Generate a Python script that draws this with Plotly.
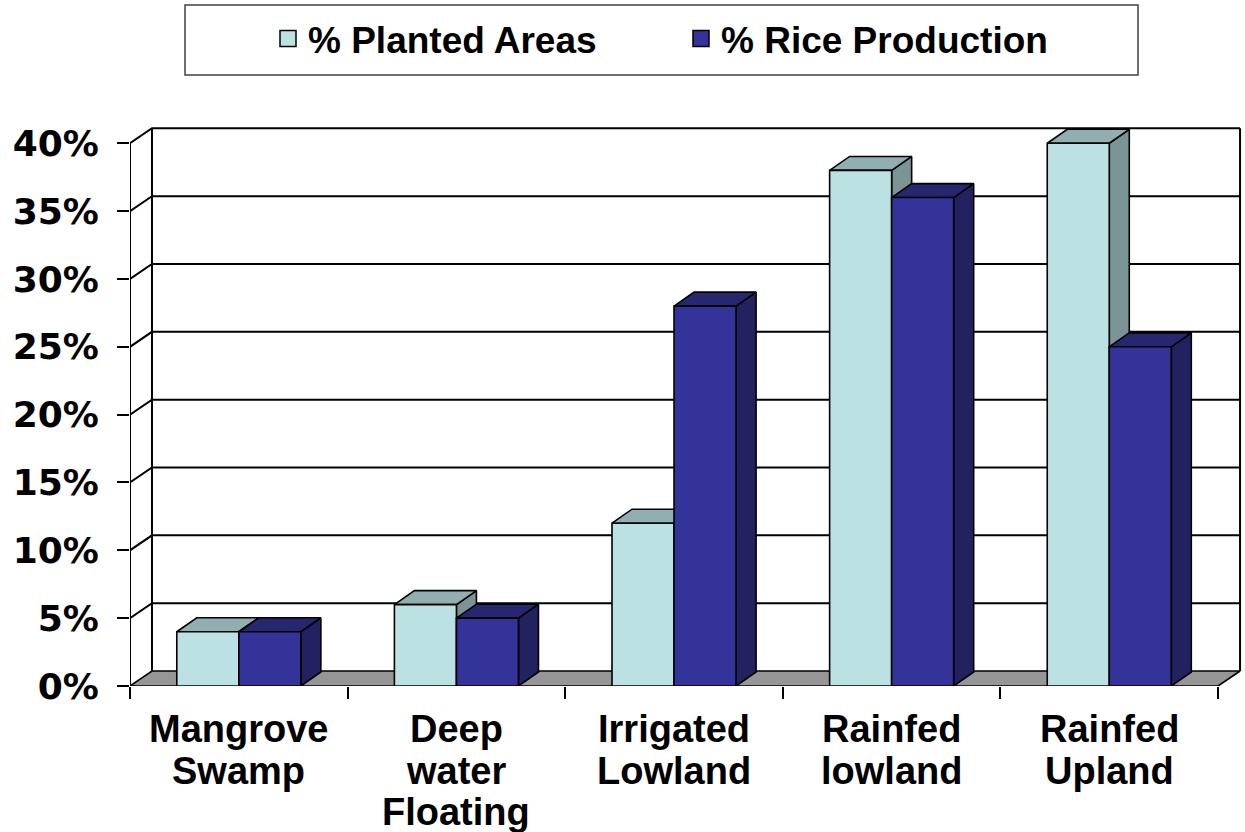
import plotly.graph_objects as go

# ---------------- data ----------------
categories = ["Mangrove Swamp", "Deep water Floating", "Irrigated Lowland",
              "Rainfed lowland", "Rainfed Upland"]
planted_areas = [4, 6, 12, 38, 40]
rice_production = [4, 5, 28, 36, 25]
series_names = ["% Planted Areas", "% Rice Production"]
y_ticks = [0, 5, 10, 15, 20, 25, 30, 35, 40]
y_tick_labels = [f"{v}%" for v in y_ticks]

# ---------------- style / geometry ----------------
BAR_W = 0.285                 # width of one bar (category units)
WALL_DX, WALL_DY = 0.101, 1.105   # depth offset of the back wall
BAR_DX, BAR_DY = 0.092, 1.03      # depth offset of the bars
X_MAX, Y_MAX = 5.11, 41.2
EDGE = dict(color="black", width=1.6)
series_colors = [
    dict(front="#BCE1E3", top="#91AFB0", side="#7A9394"),
    dict(front="#333399", top="#27276F", side="#222260"),
]
LABEL_FONT = dict(family="Liberation Sans", size=38, color="black", weight="bold")
LEGEND_FONT = dict(family="Liberation Sans", size=37, color="black", weight="bold")
TICK_FONT = dict(family="DejaVu Sans", size=36, color="black", weight="bold")

fig = go.Figure()
n = len(categories)
top = y_ticks[-1]

def poly(xs, ys, fill, line=EDGE):
    fig.add_trace(go.Scatter(x=xs, y=ys, mode="lines", fill="toself",
                             fillcolor=fill, line=line, hoverinfo="skip",
                             showlegend=False))

# floor
poly([0, n, n + WALL_DX, WALL_DX, 0], [0, 0, WALL_DY, WALL_DY, 0], "#969696")

# gridlines on side wall and back wall, wall edges, front value axis
gx, gy = [], []
for v in y_ticks[1:]:
    gx += [0, WALL_DX, n + WALL_DX, None]
    gy += [v, v + WALL_DY, v + WALL_DY, None]
gx += [WALL_DX, WALL_DX, None, n + WALL_DX, n + WALL_DX, None, 0, 0]
gy += [WALL_DY, top + WALL_DY, None, WALL_DY, top + WALL_DY, None, 0, top]
fig.add_trace(go.Scatter(x=gx, y=gy, mode="lines",
                         line=dict(color="black", width=2),
                         hoverinfo="skip", showlegend=False))

# bars (front, top and side faces)
series = [planted_areas, rice_production]
for i in range(n):
    c = i + 0.5
    for j, vals in enumerate(series):
        v = vals[i]
        col = series_colors[j]
        x0 = c - BAR_W + j * BAR_W
        x1 = x0 + BAR_W
        poly([x1, x1 + BAR_DX, x1 + BAR_DX, x1, x1],
             [0, BAR_DY, v + BAR_DY, v, 0], col["side"])
        poly([x0, x1, x1 + BAR_DX, x0 + BAR_DX, x0],
             [v, v, v + BAR_DY, v + BAR_DY, v], col["top"])
        fig.add_trace(go.Scatter(x=[x0, x1, x1, x0, x0], y=[0, 0, v, v, 0],
                                 mode="lines", fill="toself",
                                 fillcolor=col["front"], line=EDGE,
                                 name=series_names[j], showlegend=False,
                                 hoveron="fills",
                                 text=f"{categories[i]}: {v}%", hoverinfo="text"))

# legend entries
for j, name in enumerate(series_names):
    fig.add_trace(go.Scatter(x=[None], y=[None], mode="markers", name=name,
                             marker=dict(symbol="square", size=16,
                                         color=series_colors[j]["front"],
                                         line=dict(color="black", width=1.5))))

# category labels, one annotation per line
PLOT_BOTTOM_PX, PLOT_H_PX = 686, 559
for i, cat in enumerate(categories):
    for k, word in enumerate(cat.split(" ")):
        ypx = 729 + 41.5 * k
        fig.add_annotation(x=i + 0.5, xref="x", y=(PLOT_BOTTOM_PX - ypx) / PLOT_H_PX,
                           yref="paper", text=word, showarrow=False,
                           xanchor="center", yanchor="middle", font=LABEL_FONT)

# legend frame
fig.add_shape(type="rect", xref="paper", yref="paper",
              x0=(185 - 130) / 1112, x1=(1138 - 130) / 1112,
              y0=(686 - 75) / 559, y1=(686 - 5) / 559,
              line=dict(color="#404040", width=1.5), fillcolor="rgba(0,0,0,0)")

fig.update_layout(
    width=1245, height=832,
    margin=dict(l=130, r=3, t=127, b=146),
    paper_bgcolor="white", plot_bgcolor="white",
    showlegend=True,
    legend=dict(orientation="h", x=(268 - 130) / 1112, xanchor="left",
                y=(686 - 39) / 559, yanchor="middle",
                font=LEGEND_FONT, bgcolor="rgba(0,0,0,0)", borderwidth=0,
                entrywidth=368, entrywidthmode="pixels"),
    xaxis=dict(range=[0, X_MAX], tickvals=list(range(n + 1)),
               ticktext=[""] * (n + 1), ticks="outside", ticklen=12,
               tickwidth=2, tickcolor="black", showgrid=False,
               zeroline=False, showline=False, fixedrange=True),
    yaxis=dict(range=[0, Y_MAX], tickvals=y_ticks, ticktext=y_tick_labels,
               ticks="outside", ticklen=12, tickwidth=2, tickcolor="black",
               tickfont=TICK_FONT, ticklabelstandoff=11, showgrid=False,
               zeroline=False, showline=False, fixedrange=True),
)

fig.write_html("out.html")
